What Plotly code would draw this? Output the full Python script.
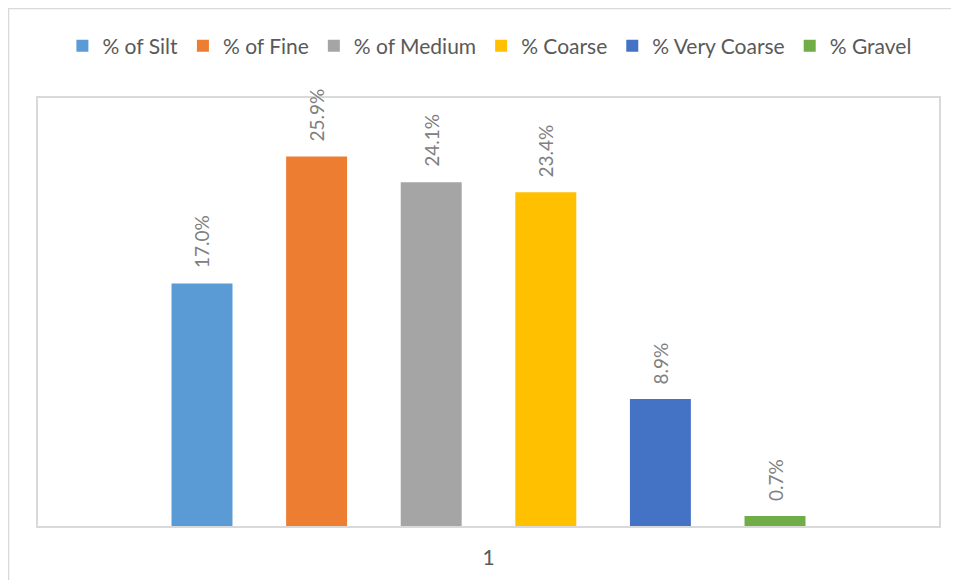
import plotly.graph_objects as go

# ---- data ----
series_names = ["% of Silt", "% of Fine", "% of Medium", "% Coarse", "% Very Coarse", "% Gravel"]
values = [17.0, 25.9, 24.1, 23.4, 8.9, 0.7]
category_labels = ["1"]
colors = ["#5B9BD5", "#ED7D31", "#A5A5A5", "#FFC000", "#4472C4", "#70AD47"]

FONT = "Lato, Carlito, Calibri, sans-serif"

positions = list(range(len(series_names)))
center = sum(positions) / len(positions)

fig = go.Figure()
for i, (name, v, c) in enumerate(zip(series_names, values, colors)):
    fig.add_trace(go.Bar(
        x=[positions[i]], y=[v], name=name, marker=dict(color=c, line=dict(width=0)),
        width=0.532, hoverinfo="skip",
    ))
    fig.add_annotation(
        x=positions[i], y=v, text=f"{v:.1f}%", textangle=-90, showarrow=False,
        xanchor="center", yanchor="bottom", yshift=13,
        font=dict(family=FONT, size=19, color="#808080"),
    )

half = 901 / 114.6 / 2
fig.update_layout(
    width=951, height=572,
    margin=dict(l=30, r=20, t=90, b=54),
    paper_bgcolor="white", plot_bgcolor="white",
    showlegend=True,
    legend=dict(orientation="h", x=0.501, xanchor="center", y=1.121, yanchor="middle",
                font=dict(family=FONT, size=21, color="#595959"),
                itemclick=False, itemsizing="constant", traceorder="normal"),
    xaxis=dict(range=[center - half, center + half], tickvals=[center], ticktext=category_labels,
               showgrid=False, zeroline=False, showline=True, mirror=True,
               linecolor="#D9D9D9", linewidth=2, ticks="", ticklabelstandoff=12,
               tickfont=dict(family=FONT, size=21, color="#595959")),
    yaxis=dict(range=[0, 30], showticklabels=False, showgrid=False, zeroline=False,
               showline=True, mirror=True, linecolor="#D9D9D9", linewidth=2, ticks=""),
    shapes=[dict(type="rect", xref="paper", yref="paper",
                 x0=-29.5/901, x1=1.2, y0=-0.3, y1=(526-8.5)/428,
                 line=dict(color="#D9D9D9", width=1.5), fillcolor="rgba(0,0,0,0)", layer="below")],
)

fig.write_html("out.html")
